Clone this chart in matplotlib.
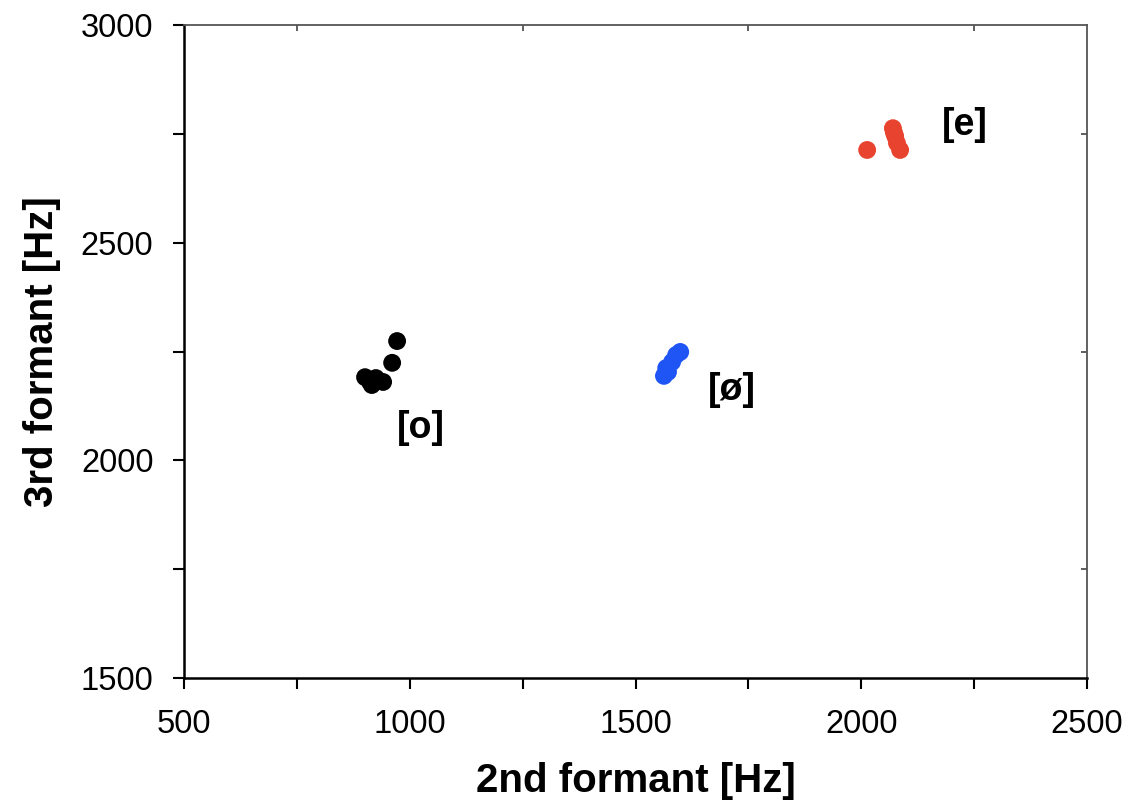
import matplotlib
matplotlib.use('Agg')
import matplotlib.pyplot as plt
from matplotlib.ticker import MultipleLocator, FixedLocator

plt.rcParams['font.family'] = ['Liberation Sans', 'DejaVu Sans']

# formant measurements (F2, F3) per vowel
o_f2 = [972, 961, 901, 916, 941, 925, 912]
o_f3 = [2274, 2224, 2191, 2173, 2180, 2189, 2180]
oe_f2 = [1599, 1590, 1581, 1568, 1563, 1572]
oe_f3 = [2249, 2242, 2226, 2212, 2194, 2203]
e_f2 = [2013, 2070, 2075, 2079, 2086, 2072]
e_f3 = [2713, 2763, 2745, 2729, 2713, 2754]

labels = ['[o]', '[ø]', '[e]']
label_x = [1025, 1714, 2230]
label_y = [2074, 2161, 2770]

fig = plt.figure(figsize=(11.28, 8.05), dpi=100)
ax = fig.add_axes([0.1631, 0.1578, 0.8006, 0.8111])

ax.scatter(o_f2, o_f3, s=165, color='black', edgecolors='none')
ax.scatter(oe_f2, oe_f3, s=165, color='#1f55f5', edgecolors='none')
ax.scatter(e_f2, e_f3, s=165, color='#e8432f', edgecolors='none')

for lab, lx, ly in zip(labels, label_x, label_y):
    ax.text(lx, ly, lab, fontsize=27, fontweight='bold', ha='center', va='center')

ax.set_xlim(500, 2500)
ax.set_ylim(1500, 3000)
ax.xaxis.set_major_locator(MultipleLocator(500))
ax.yaxis.set_major_locator(MultipleLocator(500))
ax.xaxis.set_minor_locator(MultipleLocator(250))
ax.yaxis.set_minor_locator(MultipleLocator(250))

ax.tick_params(axis='both', which='both', direction='out', length=8, width=1.5,
               labelsize=23.5, pad=14)

# small inward ticks on the top and right edges at minor positions
ax_top = ax.secondary_xaxis('top')
ax_top.xaxis.set_major_locator(FixedLocator([750, 1250, 1750, 2250]))
ax_top.tick_params(direction='in', length=4, width=1.2, labeltop=False, color='#444444')
ax_top.spines['top'].set_visible(False)
ax_right = ax.secondary_yaxis('right')
ax_right.yaxis.set_major_locator(FixedLocator([1750, 2250, 2750]))
ax_right.tick_params(direction='in', length=4, width=1.2, labelright=False, color='#444444')
ax_right.spines['right'].set_visible(False)

for side in ['left', 'bottom']:
    ax.spines[side].set_linewidth(1.8)
    ax.spines[side].set_color('black')
for side in ['top', 'right']:
    ax.spines[side].set_linewidth(1.3)
    ax.spines[side].set_color('#555555')

ax.set_xlabel('2nd formant [Hz]', fontsize=29, fontweight='bold', labelpad=16)
ax.set_ylabel('3rd formant [Hz]', fontsize=29, fontweight='bold', labelpad=14)

fig.savefig('out.png', dpi=100)
